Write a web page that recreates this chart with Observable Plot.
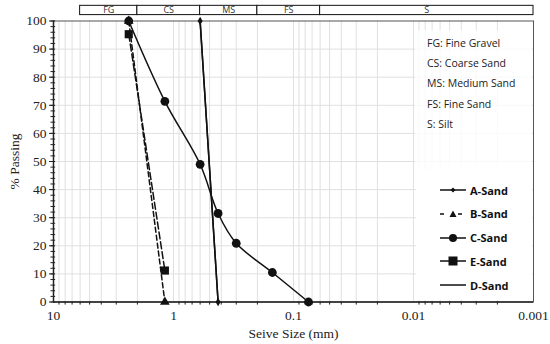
<!DOCTYPE html>
<html><head><meta charset="utf-8">
<script src="https://cdn.jsdelivr.net/npm/d3@7"></script>
<script src="https://cdn.jsdelivr.net/npm/@observablehq/plot@0.6"></script>
<style>
body{margin:0;background:#fff;}
#wrap{position:relative;width:550px;height:344px;}
#leg1{position:absolute;left:415px;top:30px;width:117px;height:140px;background:rgba(255,255,255,0.8);font-family:"Open Sans",sans-serif;font-size:10.5px;color:#222;}
#leg1 div{position:absolute;left:12px;white-space:nowrap;}
#leg2{position:absolute;left:416px;top:170px;width:116px;height:130px;background:#fff;font-family:"Open Sans",sans-serif;font-weight:bold;font-size:11px;color:#111;}
#leg2 .e{position:absolute;left:24px;height:14px;display:flex;align-items:center;white-space:nowrap;}
#leg2 svg{margin-right:3px;}
</style></head><body>
<div id="wrap"></div>
<script>
// Series data (sieve size mm, % passing)
const aSize = [0.6, 0.425];
const aPass = [100, 0];
const bSize = [2.36, 1.18];
const bPass = [100, 0];
const cSize = [2.36, 1.18, 0.6, 0.425, 0.3, 0.15, 0.075];
const cPass = [100, 71.4, 49.0, 31.5, 20.9, 10.5, 0];
const eSize = [2.36, 1.18];
const ePass = [95.3, 11.2];
const dSize = [0.6, 0.425];
const dPass = [100, 0];

// Soil zones band
const zoneNames = ["FG", "CS", "MS", "FS", "S"];
const zoneBounds = [6, 2, 0.6, 0.2, 0.06, 0.001];

const xTicks = [10, 1, 0.1, 0.01, 0.001];
const xTickLabels = ["10", "1", "0.1", "0.01", "0.001"];
const yTicks = [0, 10, 20, 30, 40, 50, 60, 70, 80, 90, 100];

const abbrevs = ["FG: Fine Gravel", "CS: Coarse Sand", "MS: Medium Sand", "FS: Fine Sand", "S: Silt"];
const seriesNames = ["A-Sand", "B-Sand", "C-Sand", "E-Sand", "D-Sand"];

const mk = (s, p) => s.map((v, i) => ({x: v, y: p[i]}));
const A = mk(aSize, aPass), B = mk(bSize, bPass), C = mk(cSize, cPass), E = mk(eSize, ePass), D = mk(dSize, dPass);

const minor = [];
for (const dec of [1, 0.1, 0.01, 0.001]) for (let k = 2; k <= 9; k++) minor.push(+(k * dec).toPrecision(3));
const yMinor = d3.range(0, 101, 2);
const zones = zoneNames.map((n, i) => ({n, x1: zoneBounds[i], x2: zoneBounds[i + 1]}));

const plot = Plot.plot({
  width: 550, height: 344,
  marginLeft: 53, marginRight: 17, marginTop: 20.5, marginBottom: 42.5,
  style: {fontFamily: "'Liberation Serif', serif", fontSize: "13.5px", color: "#222", background: "#fff"},
  x: {type: "log", domain: [10, 0.001], ticks: xTicks, tickFormat: d => xTickLabels[xTicks.indexOf(d)] ?? "", label: "Seive Size (mm)", labelAnchor: "center", labelArrow: "none", labelOffset: 36, tickSize: 0, tickPadding: 8},
  y: {domain: [0, 100], ticks: yTicks, label: "% Passing", labelAnchor: "center", labelArrow: "none", labelOffset: 44, tickSize: 4, tickPadding: 3},
  marks: [
    Plot.ruleX(minor.concat(xTicks), {stroke: "#e0e0e0", strokeWidth: 1}),
    Plot.ruleY(yTicks.slice(1, -1), {stroke: "#e0e0e0", strokeWidth: 1}),
    Plot.frame({stroke: "#555", strokeWidth: 1}),
    Plot.ruleY([0], {stroke: "#222", strokeWidth: 1.5}),
    Plot.ruleX([10], {stroke: "#222", strokeWidth: 1.5}),
    Plot.ruleY(yMinor, {x1: 9.6, x2: 10.5, stroke: "#222", strokeWidth: 1, clip: false}),
    Plot.ruleX(minor, {y1: 0, y2: -1.1, stroke: "#222", strokeWidth: 1, clip: false}),
    Plot.rectY(zones, {x1: "x1", x2: "x2", y1: 102.1, y2: 105.4, fill: "#fff", stroke: "#111", strokeWidth: 1, clip: false}),
    Plot.text(zones, {x: d => Math.sqrt(d.x1 * d.x2), y: 103.75, text: "n", fontFamily: "'Open Sans', sans-serif", fontSize: 9, fill: "#333", clip: false}),
    // series
    Plot.line(D, {x: "x", y: "y", stroke: "#111", strokeWidth: 1.5}),
    Plot.line(A, {x: "x", y: "y", stroke: "#111", strokeWidth: 1.5}),
    Plot.dot(A, {x: "x", y: "y", symbol: "diamond", r: 2.6, fill: "#111"}),
    Plot.line(B, {x: "x", y: "y", stroke: "#111", strokeWidth: 1.5, strokeDasharray: "5,3"}),
    Plot.dot(B, {x: "x", y: "y", symbol: "triangle", r: 3.6, fill: "#111"}),
    Plot.line(E, {x: "x", y: "y", stroke: "#111", strokeWidth: 1.5, strokeDasharray: "7,3"}),
    Plot.dot(E, {x: "x", y: "y", symbol: "square", r: 4.6, fill: "#111"}),
    Plot.line(C, {x: "x", y: "y", stroke: "#111", strokeWidth: 1.5, curve: "catmull-rom"}),
    Plot.dot(C, {x: "x", y: "y", r: 4.4, fill: "#111"})
  ]
});
plot.style.position = "absolute";
plot.style.left = "0px"; plot.style.top = "0px";
const wrap = document.getElementById("wrap");
wrap.appendChild(plot);

// abbreviation legend
const l1 = document.createElement("div"); l1.id = "leg1";
abbrevs.forEach((t, i) => { const d = document.createElement("div"); d.textContent = t; d.style.top = (6 + i * 20.2) + "px"; l1.appendChild(d); });
wrap.appendChild(l1);

// series legend
const l2 = document.createElement("div"); l2.id = "leg2";
const sym = {
  "A-Sand": '<line x1="0" y1="7" x2="26" y2="7" stroke="#111" stroke-width="1.5"/><path d="M13,4.5 L15.5,7 L13,9.5 L10.5,7Z" fill="#111"/>',
  "B-Sand": '<line x1="0" y1="7" x2="26" y2="7" stroke="#111" stroke-width="1.5" stroke-dasharray="4,5"/><rect x="9" y="2" width="8" height="10" fill="#fff"/><path d="M13,3.5 L16.5,10 L9.5,10Z" fill="#111"/>',
  "C-Sand": '<line x1="0" y1="7" x2="26" y2="7" stroke="#111" stroke-width="1.5"/><circle cx="13" cy="7" r="4" fill="#111"/>',
  "E-Sand": '<line x1="0" y1="7" x2="26" y2="7" stroke="#111" stroke-width="1.5"/><rect x="8.5" y="2.5" width="9" height="9" fill="#111"/>',
  "D-Sand": '<line x1="0" y1="7" x2="26" y2="7" stroke="#111" stroke-width="1.5"/>'
};
seriesNames.forEach((n, i) => {
  const e = document.createElement("div"); e.className = "e"; e.style.top = (13 + i * 23.8) + "px";
  e.innerHTML = '<svg width="27" height="14">' + sym[n] + '</svg><span>' + n + '</span>';
  l2.appendChild(e);
});
wrap.appendChild(l2);
</script>
</body></html>
